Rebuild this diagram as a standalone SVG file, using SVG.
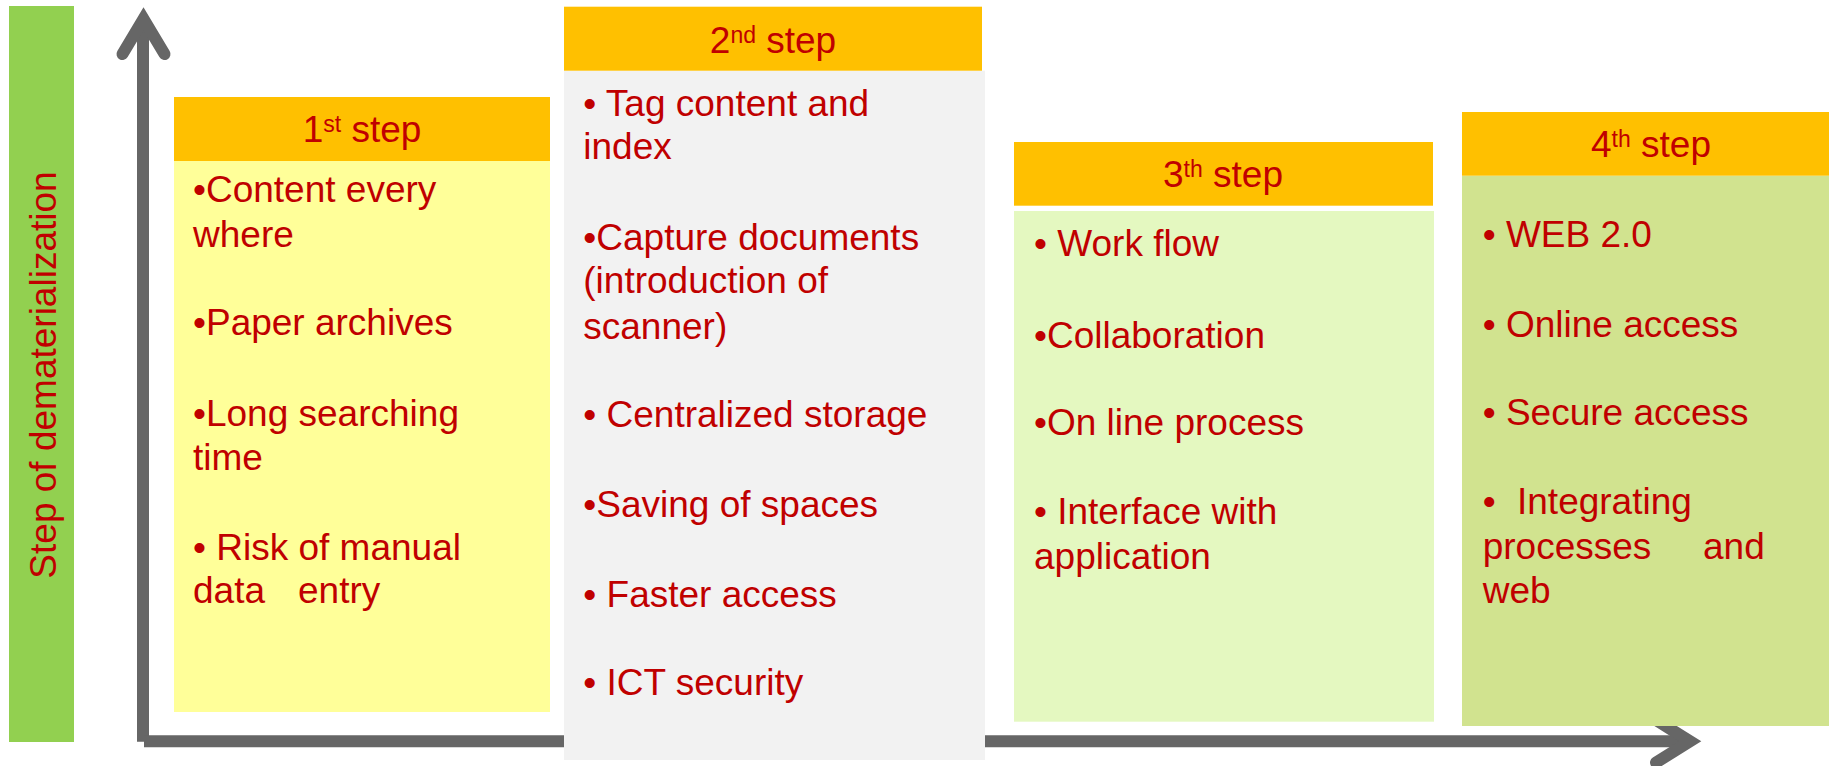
<svg xmlns="http://www.w3.org/2000/svg" width="1829" height="766" viewBox="0 0 1829 766">
<style>
  .hdr { fill: #FFC000; }
  .t { font-family: "Liberation Sans", Arial, sans-serif; font-size: 37px; fill: #C00000; }
  .h { font-family: "Liberation Sans", Arial, sans-serif; font-size: 37px; fill: #C00000; text-anchor: middle; }
  .sup { font-size: 23px; }
  .axis { fill: none; stroke: #666666; stroke-width: 12; }
  .head { fill: none; stroke: #666666; stroke-width: 12; stroke-linecap: round; stroke-linejoin: miter; stroke-miterlimit: 10; }
</style>
<rect x="0" y="0" width="1829" height="766" fill="#FFFFFF"/>

<g id="label-axis">
  <rect x="9" y="6" width="65" height="736" fill="#92D050"/>
  <text class="h" transform="translate(56,375) rotate(-90)">Step of dematerialization</text>
</g>

<g id="connectors">
  <line class="axis" x1="143" y1="741.7" x2="143" y2="22"/>
  <polyline class="head" points="122.5,54 143.5,19 164.5,54"/>
  <line class="axis" x1="144" y1="741.3" x2="1688" y2="741.3"/>
  <polyline class="head" points="1656,720 1690,741.3 1656,762.5"/>
</g>

<g id="step1">
  <rect x="174" y="161" width="376" height="551" fill="#FFFF99"/>
  <rect class="hdr" x="174" y="97" width="376" height="64"/>
  <text class="h" x="362" y="142">1<tspan class="sup" dy="-10">st</tspan><tspan dy="10"> step</tspan></text>
  <text class="t" x="193" y="202">•Content every</text>
  <text class="t" x="193" y="247">where</text>
  <text class="t" x="193" y="335">•Paper archives</text>
  <text class="t" x="193" y="426">•Long searching</text>
  <text class="t" x="193" y="470">time</text>
  <text class="t" x="193" y="560">• Risk of manual</text>
  <text class="t" x="193" y="603">data<tspan x="298">entry</tspan></text>
</g>

<g id="step2">
  <rect x="564" y="70.7" width="421" height="689.3" fill="#F2F2F2"/>
  <rect class="hdr" x="564" y="6.7" width="418" height="64"/>
  <text class="h" x="773" y="52.7">2<tspan class="sup" dy="-10">nd</tspan><tspan dy="10"> step</tspan></text>
  <text class="t" x="583.3" y="116">• Tag content and</text>
  <text class="t" x="583.3" y="159.3">index</text>
  <text class="t" x="583.3" y="250">•Capture documents</text>
  <text class="t" x="583.3" y="293.3">(introduction of</text>
  <text class="t" x="583.3" y="339.3">scanner)</text>
  <text class="t" x="583.3" y="426.7">• Centralized storage</text>
  <text class="t" x="583.3" y="517.3">•Saving of spaces</text>
  <text class="t" x="583.3" y="606.7">• Faster access</text>
  <text class="t" x="583.3" y="695">• ICT security</text>
</g>

<g id="step3">
  <rect x="1014" y="211" width="420" height="510.7" fill="#E4F8C0"/>
  <rect class="hdr" x="1014" y="142" width="419" height="63.7"/>
  <text class="h" x="1223" y="186.7">3<tspan class="sup" dy="-10">th</tspan><tspan dy="10"> step</tspan></text>
  <text class="t" x="1034" y="256">• Work flow</text>
  <text class="t" x="1034" y="347.7">•Collaboration</text>
  <text class="t" x="1034" y="435">•On line process</text>
  <text class="t" x="1034" y="524.3">• Interface with</text>
  <text class="t" x="1034" y="569.3">application</text>
</g>

<g id="step4">
  <rect x="1462" y="175.7" width="378" height="550.3" fill="#D1E38F"/>
  <rect class="hdr" x="1462" y="112" width="378" height="63.7"/>
  <text class="h" x="1651" y="156.7">4<tspan class="sup" dy="-10">th</tspan><tspan dy="10"> step</tspan></text>
  <text class="t" x="1482.7" y="246.7">• WEB 2.0</text>
  <text class="t" x="1482.7" y="336.7">• Online access</text>
  <text class="t" x="1482.7" y="425">• Secure access</text>
  <text class="t" x="1482.7" y="514.3">•<tspan x="1517">Integrating</tspan></text>
  <text class="t" x="1482.7" y="559.3">processes<tspan x="1703">and</tspan></text>
  <text class="t" x="1482.7" y="603.3">web</text>
</g>
</svg>
